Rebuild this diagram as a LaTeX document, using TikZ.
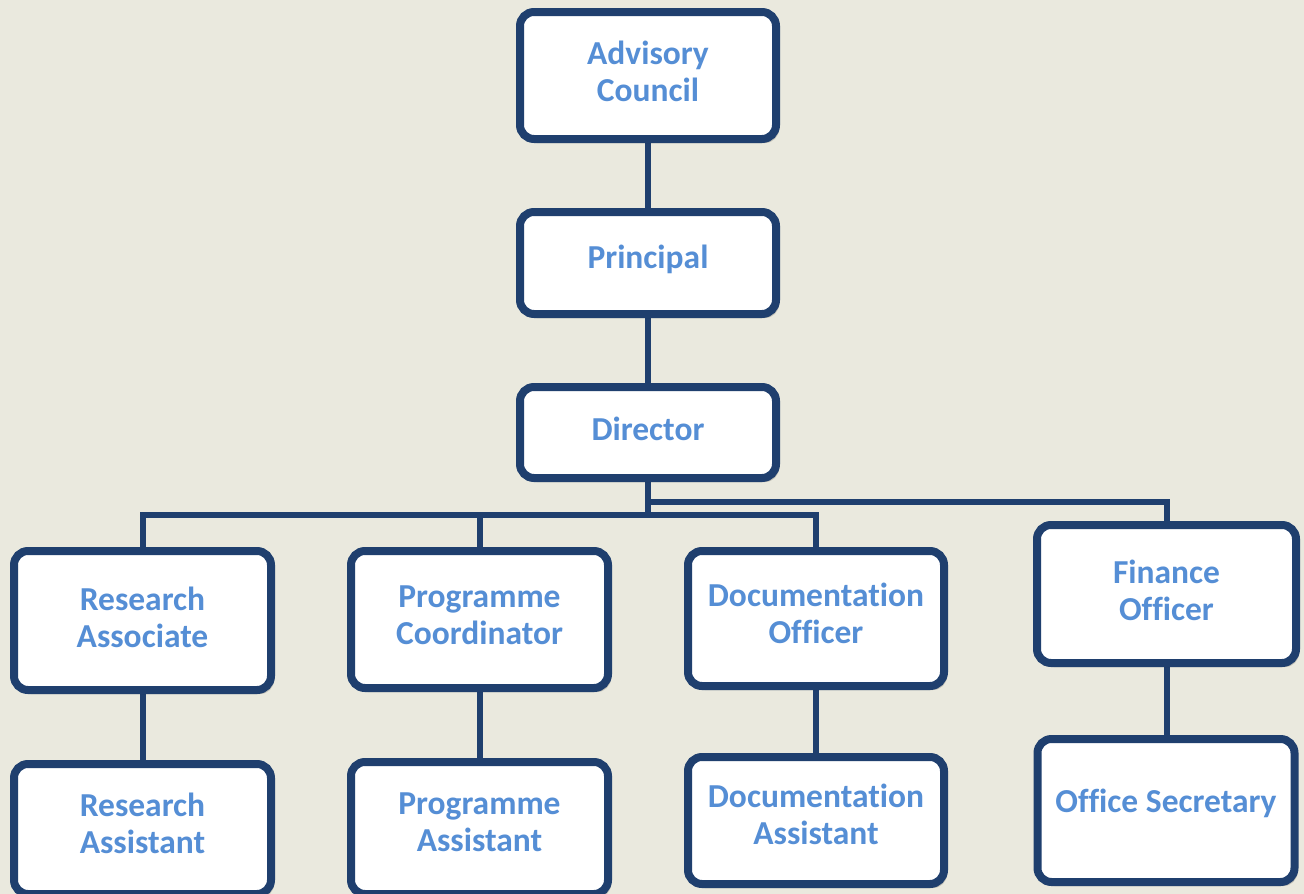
\documentclass[tikz,border=0pt]{standalone}
\usepackage{fontspec}
\setmainfont{Carlito}[Ligatures={NoCommon}]
\usetikzlibrary{shadows,backgrounds}
\definecolor{bg}{HTML}{EAE9DE}
\definecolor{bord}{HTML}{1F3F6E}
\definecolor{txt}{HTML}{558ED5}
\tikzset{
  box/.style={draw=bord, line width=8pt, fill=white, rounded corners=14pt,
    inner sep=0pt, outer sep=0pt,
    drop shadow={shadow xshift=3pt, shadow yshift=-4pt, fill=black, opacity=0.18}},
  lbl/.style={inner sep=0pt, align=center, text=txt,
    font=\fontsize{33.5}{37}\selectfont\bfseries},
  conn/.style={draw=bord, line width=6pt}
}
\begin{document}
\begin{tikzpicture}[x=1pt,y=-1pt]
\useasboundingbox (0,0) rectangle (1304,894);
% boxes
\node[box, minimum width=256pt, minimum height=127pt] (ac) at (648,75.5) {};
\node[box, minimum width=256pt, minimum height=102pt] (pr) at (648,263) {};
\node[box, minimum width=256pt, minimum height=91pt] (di) at (648,432.5) {};
\node[box, minimum width=257pt, minimum height=139pt] (ra) at (142.5,620.5) {};
\node[box, minimum width=257pt, minimum height=137pt] (pc) at (479.5,619.5) {};
\node[box, minimum width=256pt, minimum height=135pt] (do) at (816,618.5) {};
\node[box, minimum width=259pt, minimum height=138pt] (fo) at (1166.5,594) {};
\node[box, minimum width=257pt, minimum height=130pt] (rs) at (142.5,829) {};
\node[box, minimum width=257pt, minimum height=132pt] (pa) at (479.5,828) {};
\node[box, minimum width=256pt, minimum height=127pt] (da) at (816,820.5) {};
\node[box, minimum width=257pt, minimum height=143pt] (os) at (1166,810.5) {};
% labels
\node[lbl] (tac) at ([yshift=4pt]ac.center) {Advisory\\Council};
\node[lbl] (tpr) at ([yshift=4pt]pr.center) {Principal};
\node[lbl] (tdi) at ([yshift=4pt]di.center) {Director};
\node[lbl] (tra) at ([yshift=3pt]ra.center) {Research\\Associate};
\node[lbl] (tpc) at ([yshift=4pt]pc.center) {Programme\\Coordinator};
\node[lbl] (tdo) at ([yshift=5pt]do.center) {Documentation\\Officer};
\node[lbl] (tfo) at ([yshift=4pt]fo.center) {Finance\\Officer};
\node[lbl] (trs) at ([yshift=6pt]rs.center) {Research\\Assistant};
\node[lbl] (tpa) at ([yshift=6pt]pa.center) {Programme\\Assistant};
\node[lbl] (tda) at ([yshift=6pt]da.center) {Documentation\\Assistant};
\node[lbl] (tos) at ([yshift=7pt]os.center) {Office Secretary};
% junctions
\coordinate (j1) at (648,515);
\coordinate (j2) at (648,502);
% background and connectors behind boxes
\begin{pgfonlayer}{background}
\fill[bg] (0,0) rectangle (1304,894);
\draw[conn] (ac.south) -- (pr.north);
\draw[conn] (pr.south) -- (di.north);
\draw[conn] (di.south) -- (j1);
\draw[conn] (ra.north) |- (j1) -| (do.north);
\draw[conn] (pc.north) -- (pc.north |- j1);
\draw[conn] (j2) -| (fo.north);
\draw[conn] (ra.south) -- (rs.north);
\draw[conn] (pc.south) -- (pa.north);
\draw[conn] (do.south) -- (da.north);
\draw[conn] (fo.south) -- (os.north -| fo.south);
\end{pgfonlayer}
\end{tikzpicture}
\end{document}
